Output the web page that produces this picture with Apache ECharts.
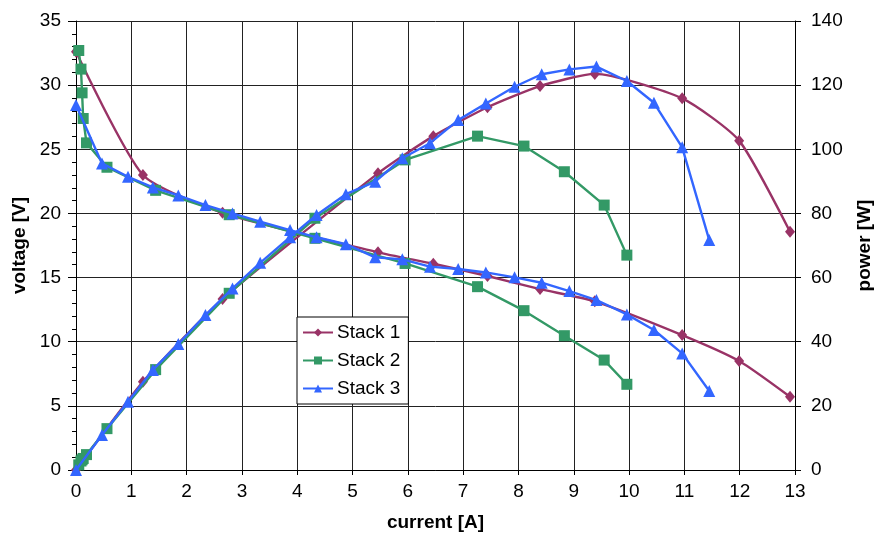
<!DOCTYPE html>
<html>
<head>
<meta charset="utf-8">
<script src="https://cdn.jsdelivr.net/npm/echarts@6/dist/echarts.min.js"></script>
<style>html,body{margin:0;padding:0;background:#fff;}#c{width:875px;height:539px;}</style>
</head>
<body>
<div id="c"></div>
<script>
// ---- data ----
const seriesNames = ['Stack 1', 'Stack 2', 'Stack 3'];

const current1 = [0, 1.21, 2.65, 5.46, 6.46, 7.44, 8.39, 9.38, 10.96, 11.99, 12.91];
const voltage1 = [32.6, 23.0, 20.05, 16.97, 16.08, 15.12, 14.1, 13.15, 10.52, 8.5, 5.71];
const power1   = [0, 27.5, 53.3, 92.5, 104.1, 113.1, 119.7, 123.5, 115.9, 102.7, 74.3];

const current2 = [0.05, 0.09, 0.11, 0.13, 0.19, 0.56, 1.44, 2.77, 4.32, 5.95, 7.26, 8.10, 8.83, 9.55, 9.96];
const voltage2 = [32.7, 31.25, 29.4, 27.4, 25.5, 23.6, 21.8, 19.9, 18.06, 16.1, 14.29, 12.42, 10.47, 8.57, 6.68];
const power2   = [1.6, 2.8, 3.2, 3.6, 4.8, 12.9, 31.3, 55.1, 78.5, 96.7, 104.1, 101.0, 93.0, 82.6, 67.0];

const current3 = [0, 0.47, 0.94, 1.39, 1.85, 2.34, 2.83, 3.33, 3.87, 4.35, 4.88, 5.41, 5.90, 6.40, 6.91, 7.41, 7.93, 8.42, 8.92, 9.41, 9.96, 10.45, 10.96, 11.45];
const voltage3 = [28.45, 23.9, 22.86, 22.03, 21.4, 20.65, 20.0, 19.36, 18.7, 18.14, 17.6, 16.58, 16.42, 15.85, 15.67, 15.4, 15.02, 14.6, 13.95, 13.25, 12.13, 10.91, 9.09, 6.16];
const power3   = [0, 10.9, 21.3, 31.2, 39.3, 48.3, 56.6, 64.6, 72.6, 79.5, 86.0, 89.9, 97.2, 101.9, 109.1, 114.3, 119.5, 123.4, 124.9, 125.8, 121.3, 114.5, 100.6, 71.7];

const xTicks = [0, 13, 1];      // min, max, interval
const vTicks = [0, 35, 5];
const pTicks = [0, 140, 20];

// ---- styling ----
const colors = ['#993366', '#339966', '#3366FF'];
const symbols = ['diamond', 'rect', 'triangle'];
const symSizes = [[10, 12], 11, 12];
const smooth = [0.2, false, false];
const FONT = '"Liberation Sans", Arial, sans-serif';

const sets = [
  [current1, voltage1, power1],
  [current2, voltage2, power2],
  [current3, voltage3, power3]
];

const series = [];
sets.forEach((s, k) => {
  const base = {
    name: seriesNames[k],
    type: 'line',
    symbol: symbols[k],
    symbolSize: symSizes[k],
    smooth: smooth[k],
    color: colors[k],
    lineStyle: { width: 2.4, color: colors[k] },
    itemStyle: { color: colors[k] },
    z: 2 + k
  };
  series.push(Object.assign({}, base, { yAxisIndex: 0, data: s[0].map((c, i) => [c, s[1][i]]) }));
  series.push(Object.assign({}, base, { yAxisIndex: 1, data: s[0].map((c, i) => [c, s[2][i]]) }));
});

const chart = echarts.init(document.getElementById('c'), null, { renderer: 'canvas' });
chart.setOption({
  animation: false,
  backgroundColor: '#fff',
  textStyle: { fontFamily: FONT },
  grid: { left: 76, right: 80, top: 21, bottom: 69, containLabel: false, outerBoundsMode: 'none' },
  legend: {
    data: seriesNames,
    orient: 'vertical',
    left: 297, top: 317,
    backgroundColor: '#fff',
    borderColor: '#000', borderWidth: 1, borderRadius: 0,
    padding: [6, 8, 6, 5],
    itemWidth: 30, itemHeight: 10, itemGap: 9,
    textStyle: { fontFamily: FONT, fontSize: 19, color: '#000', padding: [0, 0, 0, -1] }
  },
  xAxis: {
    type: 'value', min: xTicks[0], max: xTicks[1], interval: xTicks[2],
    name: 'current [A]', nameLocation: 'middle', nameGap: 43,
    nameTextStyle: { fontFamily: FONT, fontSize: 19, fontWeight: 'bold', color: '#000' },
    axisLine: { show: true, onZero: false, lineStyle: { color: '#000', width: 1 } },
    axisTick: { show: true, inside: false, length: 5, lineStyle: { color: '#000' } },
    axisLabel: { fontFamily: FONT, fontSize: 19, color: '#000', margin: 12 },
    splitLine: { show: true, lineStyle: { color: '#222', width: 1 } }
  },
  yAxis: [
    {
      type: 'value', position: 'left', min: vTicks[0], max: vTicks[1], interval: vTicks[2],
      name: 'voltage [V]', nameLocation: 'middle', nameGap: 43, nameRotate: 90,
      nameTextStyle: { fontFamily: FONT, fontSize: 19, fontWeight: 'bold', color: '#000' },
      axisLine: { show: true, onZero: false, lineStyle: { color: '#000', width: 1 } },
      axisTick: { show: true, inside: false, length: 8, lineStyle: { color: '#000' } },
      minorTick: { show: true, splitNumber: 5, length: 4, lineStyle: { color: '#000' } },
      axisLabel: { fontFamily: FONT, fontSize: 19, color: '#000', margin: 15 },
      splitLine: { show: true, lineStyle: { color: '#222', width: 1 } }
    },
    {
      type: 'value', position: 'right', min: pTicks[0], max: pTicks[1], interval: pTicks[2],
      name: 'power [W]', nameLocation: 'middle', nameGap: 60, nameRotate: 90,
      nameTextStyle: { fontFamily: FONT, fontSize: 19, fontWeight: 'bold', color: '#000' },
      axisLine: { show: true, onZero: false, lineStyle: { color: '#000', width: 1 } },
      axisTick: { show: true, inside: false, length: 6, lineStyle: { color: '#000' } },
      axisLabel: { fontFamily: FONT, fontSize: 19, color: '#000', margin: 16 },
      splitLine: { show: false }
    }
  ],
  series: series
});
</script>
</body>
</html>
